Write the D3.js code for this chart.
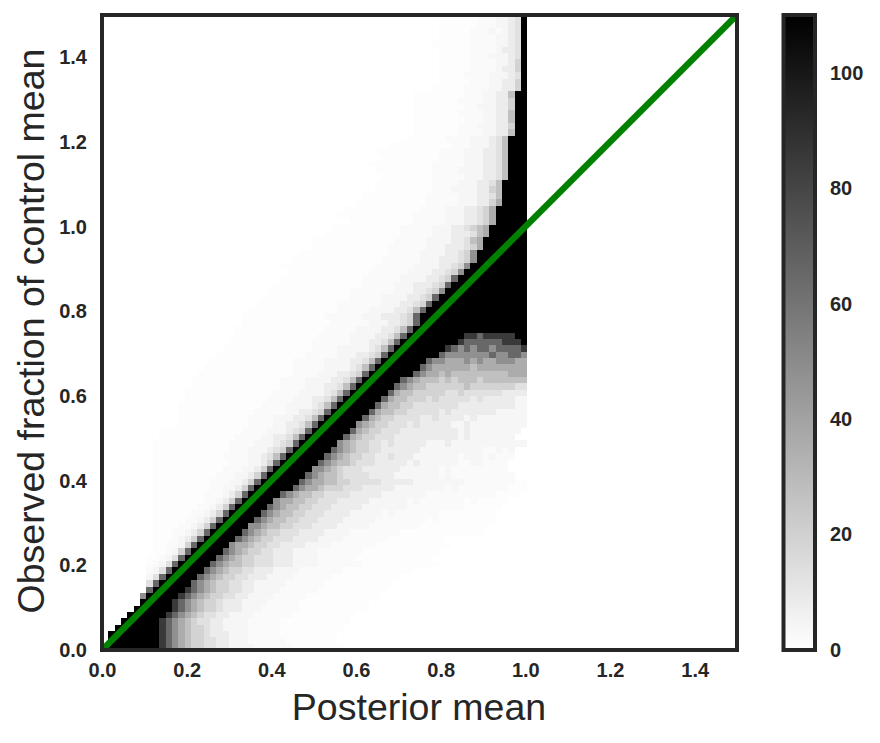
<!DOCTYPE html>
<html>
<head>
<meta charset="utf-8">
<script src="https://cdn.jsdelivr.net/npm/d3@7"></script>
<style>
  html, body { margin: 0; padding: 0; background: #fff; }
  svg { display: block; }
  text { font-family: "Liberation Sans", Arial, sans-serif; fill: #262626; }
  .tick-label { font-weight: bold; font-size: 20px; }
  .axis-title { font-size: 37.5px; }
</style>
</head>
<body>
<svg id="chart" width="880" height="743"></svg>
<script>
// Count levels used in the histogram table; each character of a fade string names one level.
const levelCodes = ".123456789abc";
const levelValues = [0, 1, 2, 4, 8, 13, 19, 27, 36, 48, 65, 85, 110];

const binWidth = 0.015;
const lastColumn = 66;
const axisMax = 1.5;
const colorMax = 110;

const xTicks = [0, 0.2, 0.4, 0.6, 0.8, 1.0, 1.2, 1.4];
const yTicks = [0, 0.2, 0.4, 0.6, 0.8, 1.0, 1.2, 1.4];
const colorTicks = [0, 20, 40, 60, 80, 100];
const identityLine = [0, 1.5];

// One entry per histogram row, top row first: first and last saturated column.
const saturatedStart = [
  66,66,66,66,66,66,66,66,66,66,66,66,
  65,65,65,65,65,65,65,
  64,64,64,64,64,64,64,
  63,63,63,63,
  62,62,62,
  61,61,60,60,59,59,58,57,56,55,54,53,52,51,50,50,
  49,48,47,46,45,44,43,42,41,40,39,38,37,36,35,34,33,32,31,30,
  29,28,27,26,25,24,23,22,21,20,19,18,17,16,15,14,13,12,11,10,
  9,8,7,6,5,4,3,2,1,1,0
];
const saturatedEnd = [
  66,66,66,66,66,66,66,66,66,66,66,66,66,66,66,66,66,66,66,66,66,66,66,66,66,
  66,66,66,66,66,66,66,66,66,66,66,66,66,66,66,66,66,66,66,66,66,66,66,66,66,
  56,55,53,52,50,49,48,46,45,44,43,42,41,40,39,38,37,36,35,34,
  33,32,31,30,29,27,26,25,24,23,22,21,20,19,18,17,16,15,14,13,
  12,11,10,10,9,8,8,8,8,8
];

// Counts read leftwards from the saturated run, for the rows above the ridge.
const upperFade = [
  "5433222111111","5433222111111","5432322211111","5433222211111","54332222111111","5443222211111",
  "5433322211111","6433222211111","6443222211111","5433322221111","6443322211111","64433222211111",
  "7443322211111111","6443322221111111","6443332211111111","7443322221111111","7443322211111111","6443332221111111","7443322221111111",
  "7543332222111111","7543332221111111111","754433322221111111111","75443332222111111111","7544333222221111111111","754433332222111111111","75443332222211111111",
  "75443332222111111111","76443333222111111111","7544333222221111111111","86443332222211111111111",
  "865443332222111111111111","8654433322222111111111111","86544333222221111111111",
  "8765443332222211111111111","87544433322222111111111111","875443333222221111111111111","865444333222222111111111111",
  "9654433332222211111111111111","96544433322222211111111111111","965443333222222111111111111111",
  "9654433332222221111111111111","a654433332222221111111111111","a654443332222211111111111111","9654433322222221111111111111",
  "a654433332222211111111111111","a654433322222221111111111111","a754433332222211111111111111","a654443332222221111111111111",
  "a654433322222211111111111111","a754433332222211111111111111",
  "a75443333222221111111111111","a75443332222221111111111111","a75433333222211111111111111","a65443332222211111111111111",
  "a75443333222221111111111111","a75433332222211111111111111","a65443332222111111111111111","a75443333222211111111111111",
  "a7544333222211111111111111","a7543333222211111111111111",
  "a754433322221111111111111","a754333322221111111111111","a65443322222111111111111","a7544333222211111111111",
  "a754433222211111111111","a65433322221111111111111","a7544332222111111111111","a6543332222111111111111",
  "a654333222111111111111","a75433222211111111111",
  "a6433222111111111111","a643322211111111111","a64332221111111111","a6433222111111111",
  "a643322111111111","a64322211111111","a6432211111111","a643221111111","a64322111111","a6432211111",
  "a643221111","a64322111","a6432111","a632211","a63211","a53211","a5321","a532","a53","a5",
  "a","9","","","","","","","",""
];

// Counts read rightwards from the saturated run, for the rows below the ridge.
const lowerFade = [
  "","","","","","","","","","","","","","","","","","","","","","","","","",
  "","","","","","","","","","","","","","","","","","","","","","","","","",
  "bbabbbbbcc","baaaaaabbbc","ba9a9aa9aaaab","a9999999a99aa9","a998889898899988",
  "a9888888788888888","a98878777777777888","a9877767677767777777","a98776666667666666655","a877666665565555554444",
  "a877666565555545444443333","a877665555555444444444333","a8776655555454444444333333","a87665555445444434333333333","987665554544444334333333333",
  "a87665554444444443433333333","a87665554444444444343333333","987665545444443334333333333333","a9876655444444333333333322323","a98766554454443333333233323222",
  "a98776555444443433333322332222","9987655544444433333323222222222","a98776555544443333333232222222222","a98877665555544444333333332222222211111","a988766655544444333333332322222222111",
  "a9877665555444443333333222222222221111","9887766555444443333332322222221211111","a987766555444443333333222222222111111","a987766555444433333232222222111111111","a9877665554444333332222222212111111111",
  "99877665554444333332222222211111111111","a9876655544443333222222221111111111111","a98766555444433332222222111111111","98876655444433332222222111111111111","a987665544433332222222111111111111",
  "a987665554443333222222111111111111","a98776655544433332222222111111111111","a98766554443333222222211111111111","a9876655444333322222211111111111","a9876655443333322222211111111111",
  "ba987665544333322222211111111111","ba987665544333322222111111111111","ba98766544433332222211111111111","ba98766544433322222211111111111","ba9876554433332222221111111111",
  "ba9876554433332222211111111111","ba987665443333222221111111111","ba98766544433322222111111111","ba98766554433322222211111111","ba987665544333322222211111111"
];

const width = 880, height = 743;
const plot = { left: 102, right: 737, top: 15, bottom: 650 };
const bar = { left: 783.5, right: 815 };
const ink = "#262626";

const x = d3.scaleLinear().domain([0, axisMax]).range([plot.left, plot.right]);
const y = d3.scaleLinear().domain([0, axisMax]).range([plot.bottom, plot.top]);
const colorY = d3.scaleLinear().domain([0, colorMax]).range([plot.bottom, plot.top]);
const shade = d3.scaleLinear().domain([0, colorMax]).range(["#ffffff", "#000000"]).clamp(true);

// Expand the per-row tables into individual histogram cells.
const cells = [];
saturatedStart.forEach((start, row) => {
  const end = saturatedEnd[row];
  const put = (col, count) => {
    if (col >= 0 && col <= lastColumn && count > 0) cells.push({ row, col, count });
  };
  for (let c = start; c <= end; c++) put(c, colorMax);
  [...upperFade[row]].forEach((code, i) => put(start - 1 - i, levelValues[levelCodes.indexOf(code)]));
  [...lowerFade[row]].forEach((code, i) => put(end + 1 + i, levelValues[levelCodes.indexOf(code)]));
});

const svg = d3.select("#chart");
svg.append("rect").attr("width", width).attr("height", height).attr("fill", "#fff");

const defs = svg.append("defs");
defs.append("clipPath").attr("id", "plot-clip").append("rect")
  .attr("x", plot.left).attr("y", plot.top)
  .attr("width", plot.right - plot.left).attr("height", plot.bottom - plot.top);

const heat = svg.append("g").attr("clip-path", "url(#plot-clip)");
heat.append("g").attr("shape-rendering", "crispEdges")
  .selectAll("rect").data(cells).join("rect")
  .attr("x", d => x(d.col * binWidth))
  .attr("width", d => x((d.col + 1) * binWidth) - x(d.col * binWidth))
  .attr("y", d => y(axisMax - d.row * binWidth))
  .attr("height", d => y(axisMax - (d.row + 1) * binWidth) - y(axisMax - d.row * binWidth))
  .attr("fill", d => shade(d.count));

// Reference line where the two quantities agree.
heat.append("line")
  .attr("x1", x(identityLine[0])).attr("y1", y(identityLine[0]))
  .attr("x2", x(identityLine[1])).attr("y2", y(identityLine[1]))
  .attr("stroke", "#008000").attr("stroke-width", 6.5);

svg.append("rect")
  .attr("x", plot.left).attr("y", plot.top)
  .attr("width", plot.right - plot.left).attr("height", plot.bottom - plot.top)
  .attr("fill", "none").attr("stroke", ink).attr("stroke-width", 4);

// Tick labels only: the axis lines are replaced by the frame.
const xAxis = d3.axisBottom(x).tickValues(xTicks).tickFormat(d3.format(".1f")).tickSize(0).tickPadding(0);
const yAxis = d3.axisLeft(y).tickValues(yTicks).tickFormat(d3.format(".1f")).tickSize(0).tickPadding(0);
const barAxis = d3.axisRight(colorY).tickValues(colorTicks).tickFormat(d3.format("d")).tickSize(0).tickPadding(0);

const styleAxis = g => {
  g.select(".domain").remove();
  g.selectAll("text").attr("class", "tick-label").attr("font-family", null).attr("font-size", null);
  g.attr("font-family", null).attr("font-size", null);
};
svg.append("g").attr("transform", `translate(0,${plot.bottom + 13})`).call(xAxis).call(styleAxis);
svg.append("g").attr("transform", `translate(${plot.left - 15},0)`).call(yAxis).call(styleAxis);
svg.append("g").attr("transform", `translate(830,0)`).call(barAxis).call(styleAxis);

svg.append("text").attr("class", "axis-title")
  .attr("x", 419).attr("y", 720).attr("text-anchor", "middle")
  .text("Posterior mean");
svg.append("text").attr("class", "axis-title")
  .attr("transform", "translate(44,331) rotate(-90)").attr("text-anchor", "middle")
  .text("Observed fraction of control mean");

// Colorbar: a linear ramp across the same count domain.
const grad = defs.append("linearGradient").attr("id", "count-ramp")
  .attr("x1", 0).attr("y1", 1).attr("x2", 0).attr("y2", 0);
grad.selectAll("stop").data([0, colorMax]).join("stop")
  .attr("offset", d => d / colorMax).attr("stop-color", d => shade(d));
svg.append("rect")
  .attr("x", bar.left).attr("y", plot.top)
  .attr("width", bar.right - bar.left).attr("height", plot.bottom - plot.top)
  .attr("fill", "url(#count-ramp)").attr("stroke", ink).attr("stroke-width", 4);
</script>
</body>
</html>
